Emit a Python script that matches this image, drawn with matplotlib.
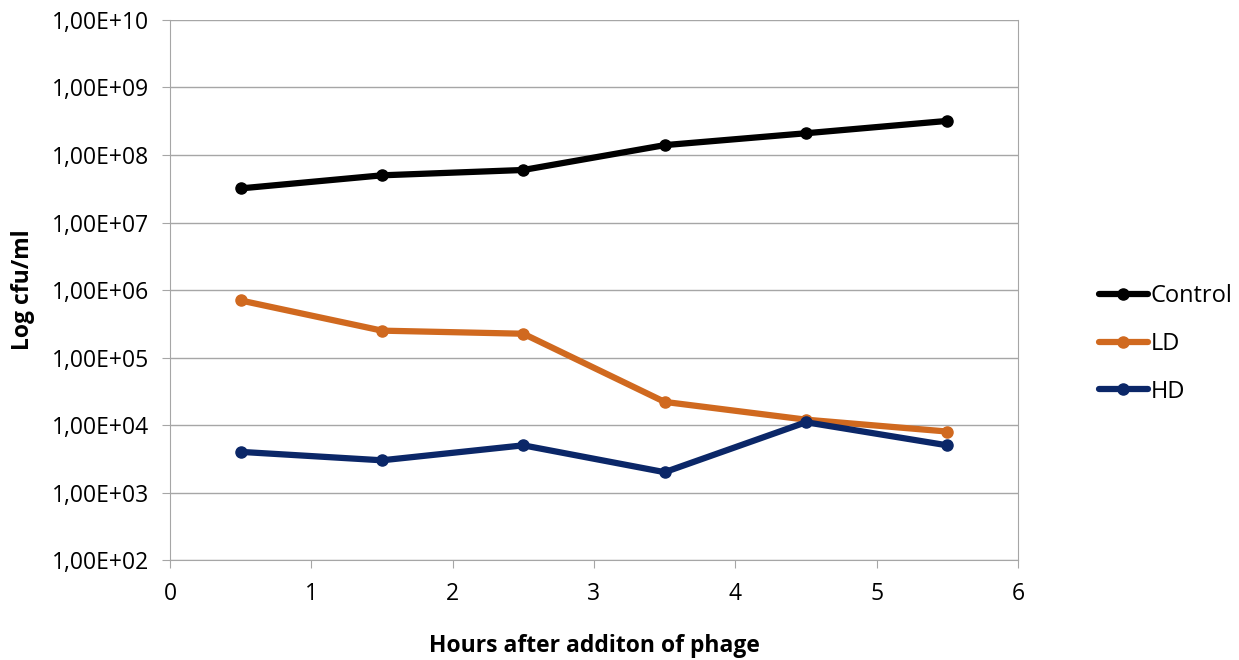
import math
import matplotlib
matplotlib.use("Agg")
import matplotlib.pyplot as plt
from matplotlib.ticker import FixedLocator, FuncFormatter

hours = [0.5, 1.5, 2.5, 3.5, 4.5, 5.5]
control = [3.2e7, 5.0e7, 6.0e7, 1.4e8, 2.1e8, 3.2e8]
ld = [7.0e5, 2.5e5, 2.25e5, 2.2e4, 1.2e4, 8.0e3]
hd = [4.0e3, 3.0e3, 5.0e3, 2.0e3, 1.1e4, 5.0e3]

series = [("Control", control, "#000000"),
          ("LD", ld, "#D0691F"),
          ("HD", hd, "#0B2768")]

plt.rcParams['font.family'] = ['Open Sans', 'DejaVu Sans']

fig = plt.figure(figsize=(12.39, 6.6), dpi=100)
ax = fig.add_axes([0.1372, 0.1515, 0.6844, 0.8182])

for name, vals, col in series:
    ax.plot(hours, vals, color=col, lw=4.5, marker='o', ms=8,
            solid_capstyle='round', label=name, zorder=3)

ax.set_yscale('log')
ax.set_ylim(1e2, 1e10)
ax.set_xlim(0, 6)
ax.yaxis.set_major_locator(FixedLocator([10.0 ** k for k in range(2, 11)]))
ax.yaxis.set_minor_locator(FixedLocator([]))
ax.yaxis.set_major_formatter(FuncFormatter(lambda v, p: "1,00E+%02d" % round(math.log10(v))))
ax.set_xticks(range(0, 7))

ax.grid(axis='y', color='#a6a6a6', lw=1)
for s in ['left', 'bottom', 'right']:
    ax.spines[s].set_color('#a6a6a6')
ax.spines['top'].set_visible(False)
ax.tick_params(axis='both', colors='#a6a6a6', labelcolor='black',
               labelsize=16.5, length=6, direction='out')
ax.tick_params(axis='y', pad=9)
ax.tick_params(axis='x', pad=10)

ax.set_xlabel("Hours after additon of phage", fontsize=16.5, fontweight='bold', labelpad=20)
ax.set_ylabel("Log cfu/ml", fontsize=16.5, fontweight='bold', labelpad=12)

ax.legend(loc='center left', bbox_to_anchor=(1.07, 0.40), frameon=False,
          fontsize=17, handlelength=2.1, handletextpad=0.1, labelspacing=1.0)

fig.savefig("out.png", dpi=100)
